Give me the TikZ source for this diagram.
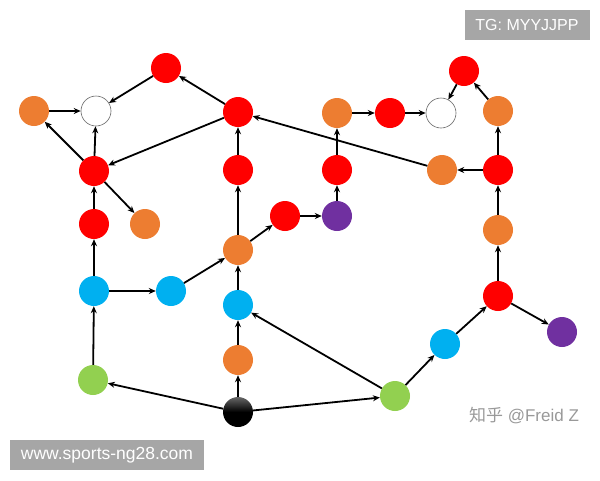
\documentclass[tikz,border=0pt]{standalone}
\usepackage{fontspec}
\setmainfont{Liberation Sans}
\newfontfamily\cjk{Noto Sans CJK SC}
\usepackage{tikz}
\usetikzlibrary{positioning,arrows.meta}

\definecolor{cred}{HTML}{FF0000}
\definecolor{corange}{HTML}{ED7D31}
\definecolor{cblue}{HTML}{00B0F0}
\definecolor{cgreen}{HTML}{92D050}
\definecolor{cpurple}{HTML}{7030A0}

\begin{document}
\begin{tikzpicture}[x=1pt,y=-1pt,
    dot/.style={circle, minimum size=30pt, inner sep=0pt},
    rednode/.style={dot, fill=cred},
    orangenode/.style={dot, fill=corange},
    bluenode/.style={dot, fill=cblue},
    greennode/.style={dot, fill=cgreen},
    purplenode/.style={dot, fill=cpurple},
    whitenode/.style={dot, draw=black!60, fill=white, line width=0.6pt},
    blacknode/.style={dot, top color=black!60, bottom color=black, middle color=black},
    link/.style={-{Stealth[length=7pt,width=6pt]}, line width=1.8pt},
    tag/.style={fill=black!35, text=white, inner sep=0pt}]
  \useasboundingbox (0,0) rectangle (600,480);

  % top left
  \node[orangenode] (orange1) at (34,111) {};
  \node[whitenode] (white1) at (96,111) {};
  \node[rednode] (red1) at (166,68) {};
  \node[rednode] (red2) at (238,112) {};
  \node[rednode] (red3) at (94,171) {};
  \node[rednode] (red4) at (94,224) {};
  \node[orangenode] (orange2) at (145,224) {};
  \node[rednode] (red5) at (238,170) {};

  % middle
  \node[orangenode] (orange3) at (238,250) {};
  \node[rednode] (red6) at (285,216) {};
  \node[purplenode] (purple1) at (337,216) {};
  \node[rednode] (red7) at (337,170) {};
  \node[orangenode] (orange4) at (337,113) {};
  \node[rednode] (red8) at (390,113) {};
  \node[whitenode] (white2) at (441,113) {};

  % right
  \node[rednode] (red9) at (464,71) {};
  \node[orangenode] (orange5) at (498,111) {};
  \node[orangenode] (orange6) at (442,170) {};
  \node[rednode] (red10) at (498,170) {};
  \node[orangenode] (orange7) at (498,230) {};
  \node[rednode] (red11) at (498,296) {};
  \node[purplenode] (purple2) at (562,332) {};
  \node[bluenode] (blue1) at (445,344) {};
  \node[greennode] (green2) at (395,396) {};

  % bottom left
  \node[bluenode] (blue2) at (94,291) {};
  \node[bluenode] (blue3) at (171,291) {};
  \node[bluenode] (blue4) at (238,305) {};
  \node[orangenode] (orange8) at (238,360) {};
  \node[blacknode] (black) at (238,412) {};
  \node[greennode] (green1) at (93,380) {};

  \draw[link] (orange1) -- (white1);
  \draw[link] (red1) -- (white1);
  \draw[link] (red3) -- (white1);
  \draw[link] (red3) -- (orange1);
  \draw[link] (red2) -- (red1);
  \draw[link] (red2) -- (red3);
  \draw[link] (red3) -- (orange2);
  \draw[link] (red4) -- (red3);
  \draw[link] (blue2) -- (red4);
  \draw[link] (blue2) -- (blue3);
  \draw[link] (blue3) -- (orange3);
  \draw[link] (green1) -- (blue2);
  \draw[link] (black) -- (green1);
  \draw[link] (black) -- (orange8);
  \draw[link] (orange8) -- (blue4);
  \draw[link] (blue4) -- (orange3);
  \draw[link] (orange3) -- (red5);
  \draw[link] (red5) -- (red2);
  \draw[link] (orange3) -- (red6);
  \draw[link] (red6) -- (purple1);
  \draw[link] (purple1) -- (red7);
  \draw[link] (red7) -- (orange4);
  \draw[link] (orange4) -- (red8);
  \draw[link] (red8) -- (white2);
  \draw[link] (red9) -- (white2);
  \draw[link] (orange5) -- (red9);
  \draw[link] (red10) -- (orange5);
  \draw[link] (red10) -- (orange6);
  \draw[link] (orange6) -- (red2);
  \draw[link] (orange7) -- (red10);
  \draw[link] (red11) -- (orange7);
  \draw[link] (red11) -- (purple2);
  \draw[link] (blue1) -- (red11);
  \draw[link] (green2) -- (blue1);
  \draw[link] (green2) -- (blue4);
  \draw[link] (black) -- (green2);

  % watermarks
  \node[tag, minimum width=125pt, minimum height=30pt, font=\fontsize{16}{16}\selectfont] (tgmark) at (527,25) {TG: MYYJJPP};
  \node[tag, minimum width=194pt, minimum height=30pt, font=\fontsize{17.5}{17.5}\selectfont] (sitemark) at (107,455) {www.sports-ng28.com};
  \node[text=black!40, font=\fontsize{17}{17}\selectfont] (zhihu) at (524,416) {{\cjk 知乎} @Freid Z};
\end{tikzpicture}
\end{document}
